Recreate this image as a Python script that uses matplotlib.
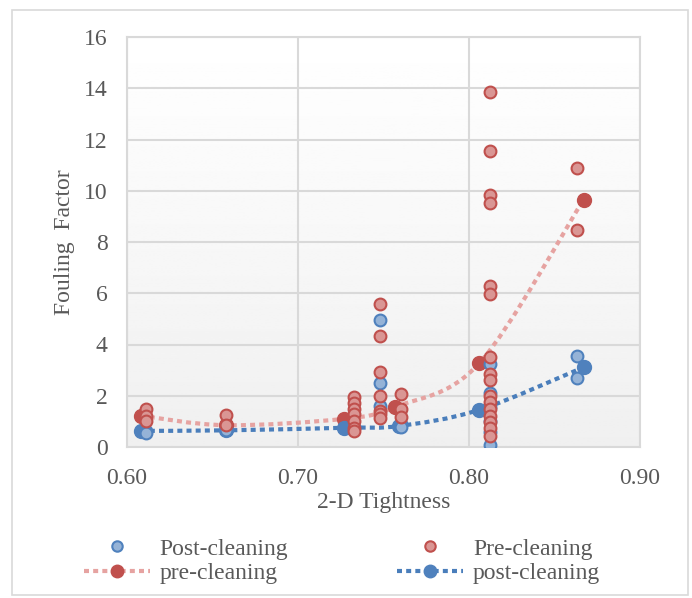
import numpy as np
import matplotlib.pyplot as plt
from matplotlib.path import Path
from matplotlib.patches import PathPatch, Rectangle
from matplotlib.lines import Line2D

plt.rcParams['font.family'] = ['Liberation Serif', 'DejaVu Serif']

# scatter data
post_x = [0.611, 0.611, 0.658, 0.733, 0.748, 0.748, 0.748, 0.760, 0.760,
          0.8125, 0.8125, 0.8125, 0.8125, 0.8125, 0.8125, 0.863, 0.863]
post_y = [0.63, 0.53, 0.65, 0.78, 4.94, 2.51, 1.60, 0.90, 0.78,
          3.25, 2.10, 1.55, 1.00, 0.60, 0.08, 3.57, 2.68]

pre_x = [0.611, 0.611, 0.611, 0.658, 0.658,
         0.733, 0.733, 0.733, 0.733, 0.733, 0.733, 0.733,
         0.748, 0.748, 0.748, 0.748, 0.748, 0.748, 0.748,
         0.760, 0.760, 0.760,
         0.8125, 0.8125, 0.8125, 0.8125, 0.8125, 0.8125, 0.8125, 0.8125, 0.8125,
         0.8125, 0.8125, 0.8125, 0.8125, 0.8125, 0.8125, 0.8125,
         0.863, 0.863]
pre_y = [1.49, 1.22, 1.02, 1.25, 0.85,
         1.95, 1.73, 1.49, 1.29, 1.02, 0.75, 0.63,
         5.57, 4.35, 2.94, 2.00, 1.41, 1.29, 1.14,
         2.08, 1.49, 1.18,
         13.86, 11.54, 9.84, 9.52, 6.29, 5.96, 3.53, 2.86, 2.60,
         2.00, 1.74, 1.48, 1.20, 0.99, 0.76, 0.42,
         10.89, 8.47]

# smoothed line series (group values)
pre_line_x = [0.608, 0.658, 0.727, 0.757, 0.806, 0.867]
pre_line_y = [1.22, 0.85, 1.10, 1.57, 3.27, 9.65]
post_line_x = [0.608, 0.658, 0.727, 0.759, 0.806, 0.867]
post_line_y = [0.63, 0.65, 0.75, 0.82, 1.45, 3.11]

RED, RED_FILL, RED_LINE = '#C0504D', '#DA9694', '#E6A3A1'
BLUE, BLUE_FILL, BLUE_LINE = '#4F81BD', '#95B3D7', '#4A7EBB'
TXT = '#595959'
GRID = '#D9D9D9'
DOTS = (0, (1.2, 1.0))


def smooth_path(xs, ys):
    # Excel-style bezier smoothing through the points
    p = np.column_stack([xs, ys])
    n = len(p)
    verts = [p[0]]
    codes = [Path.MOVETO]
    for i in range(n - 1):
        p0 = p[i - 1] if i > 0 else p[i]
        p3 = p[i + 2] if i + 2 < n else p[i + 1]
        c1 = p[i] + (p[i + 1] - p0) / 6
        c2 = p[i + 1] - (p3 - p[i]) / 6
        verts += [c1, c2, p[i + 1]]
        codes += [Path.CURVE4] * 3
    return Path(verts, codes)


fig = plt.figure(figsize=(6.92, 5.98), dpi=100)
ax = fig.add_axes([127 / 692, 1 - 447 / 598, 513 / 692, 410 / 598])

# outer chart border
fig.patches.append(Rectangle((12 / 692, 3 / 598), 676 / 692, 585 / 598,
                             transform=fig.transFigure, fill=False,
                             edgecolor=GRID, linewidth=1.2))

# plot area gradient (white at top, light grey at bottom)
grad = np.linspace(1.0, 0.94, 256).reshape(-1, 1)
ax.imshow(grad, extent=[0.6, 0.9, 0, 16], aspect='auto', cmap='gray',
          vmin=0, vmax=1, zorder=0)

ax.set_xlim(0.6, 0.9)
ax.set_ylim(0, 16)
ax.set_xticks(np.arange(0.6, 0.91, 0.1))
ax.set_xticklabels(['0.60', '0.70', '0.80', '0.90'])
ax.set_yticks(range(0, 17, 2))
ax.grid(True, color=GRID, linewidth=1.5, zorder=1)
ax.tick_params(length=0, labelsize=17, labelcolor=TXT)
ax.tick_params(axis='x', pad=15)
ax.tick_params(axis='y', pad=14)
for s in ax.spines.values():
    s.set_color(GRID)
    s.set_linewidth(1.5)

for lx, ly, lc, mc in [(pre_line_x, pre_line_y, RED_LINE, RED),
                       (post_line_x, post_line_y, BLUE_LINE, BLUE)]:
    ax.add_patch(PathPatch(smooth_path(lx, ly), fill=False, edgecolor=lc,
                           linewidth=3, linestyle=DOTS,
                           capstyle='butt', zorder=2))
    ax.plot(lx, ly, 'o', color=mc, markersize=10, linestyle='none', zorder=3)

ax.plot(post_x, post_y, 'o', markerfacecolor=BLUE_FILL, markeredgecolor=BLUE,
        markeredgewidth=1.5, markersize=8.5, linestyle='none', zorder=4)
ax.plot(pre_x, pre_y, 'o', markerfacecolor=RED_FILL, markeredgecolor=RED,
        markeredgewidth=1.5, markersize=8.5, linestyle='none', zorder=5)

ax.set_xlabel('2-D Tightness', fontsize=17, color=TXT, labelpad=2)
ax.set_ylabel('Fouling  Factor', fontsize=17, color=TXT, labelpad=6)

handles = [
    Line2D([], [], marker='o', linestyle='none', markerfacecolor=BLUE_FILL,
           markeredgecolor=BLUE, markeredgewidth=1.5, markersize=7.5),
    Line2D([], [], marker='o', color=RED_LINE, markerfacecolor=RED,
           markeredgecolor=RED, markersize=9, linewidth=3, linestyle=DOTS),
    Line2D([], [], marker='o', linestyle='none', markerfacecolor=RED_FILL,
           markeredgecolor=RED, markeredgewidth=1.5, markersize=7.5),
    Line2D([], [], marker='o', color=BLUE_LINE, markerfacecolor=BLUE,
           markeredgecolor=BLUE, markersize=9, linewidth=3, linestyle=DOTS),
]
labels = ['Post-cleaning', 'pre-cleaning', 'Pre-cleaning', 'post-cleaning']
leg = fig.legend(handles, labels, ncol=2, loc='center',
                 bbox_to_anchor=(342 / 692, 1 - 561 / 598), frameon=False,
                 fontsize=17, labelcolor=TXT, columnspacing=4.6,
                 handlelength=2.8, handletextpad=0.42, labelspacing=0.12,
                 borderpad=0)

fig.savefig('out.png', dpi=100)
